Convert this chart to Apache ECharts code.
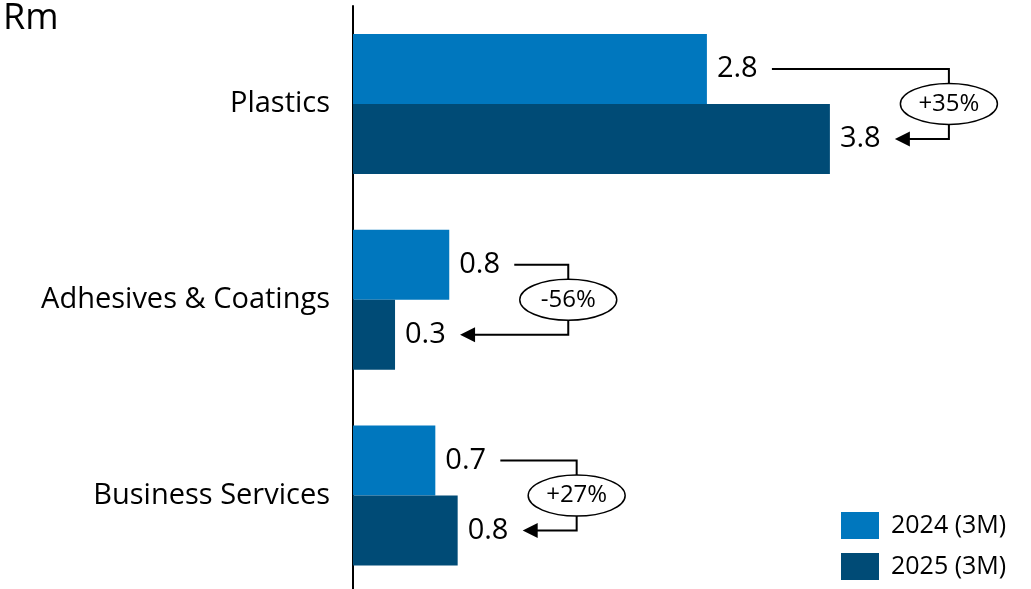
<!DOCTYPE html>
<html>
<head>
<meta charset="utf-8">
<script src="https://cdn.jsdelivr.net/npm/echarts@6/dist/echarts.min.js"></script>
<style>
  html, body { margin: 0; padding: 0; background: #fff; }
  #chart { width: 1031px; height: 589px; }
</style>
</head>
<body>
<div id="chart"></div>
<script>
// Revenue by segment, Rm, first three months of each year
var categories = ['Plastics', 'Adhesives & Coatings', 'Business Services'];
var seriesNames = ['2024 (3M)', '2025 (3M)'];
var values2024 = [2.82, 0.767, 0.656];
var values2025 = [3.80, 0.335, 0.834];

var FONT = '"Open Sans", "Noto Sans", sans-serif';
var COLOR_2024 = '#0077BE';
var COLOR_2025 = '#004B76';
var BAR_WIDTH = 70;

function fmtValue(v) { return v.toFixed(1); }
function fmtChange(a, b) {
  var p = Math.round((b / a - 1) * 100);
  return (p > 0 ? '+' : '') + p + '%';
}

// one row per category for the change connectors: [v2024, v2025, categoryIndex]
var changeRows = categories.map(function (c, i) {
  return [values2024[i], values2025[i], i];
});

function renderChange(params, api) {
  var cat = api.value(2);
  var v24 = api.value(0), v25 = api.value(1);
  var p24 = api.coord([v24, cat]);
  var p25 = api.coord([v25, cat]);
  var pMax = api.coord([Math.max(v24, v25), cat]);
  var half = BAR_WIDTH / 2;
  var yTop = p24[1] - half;
  var yBot = p24[1] + half;
  var yMid = p24[1];
  var startX = p24[0] + 65;
  var vx = pMax[0] + 119;
  var tipX = p25[0] + 65;
  var label = fmtChange(v24, v25);
  var rx = 48.5, ry = 20.5;
  var lineStyle = { stroke: '#000', lineWidth: 2, fill: null };
  return {
    type: 'group',
    children: [
      { type: 'polyline', shape: { points: [[startX, yTop], [vx, yTop], [vx, yBot], [tipX + 14, yBot]] }, style: lineStyle },
      { type: 'polygon', shape: { points: [[tipX, yBot], [tipX + 15, yBot - 7.5], [tipX + 15, yBot + 7.5]] }, style: { fill: '#000' } },
      { type: 'path', shape: { pathData: 'M' + (vx - rx) + ' ' + yMid + ' A' + rx + ' ' + ry + ' 0 1 0 ' + (vx + rx) + ' ' + yMid + ' A' + rx + ' ' + ry + ' 0 1 0 ' + (vx - rx) + ' ' + yMid + ' Z' },
        style: { fill: '#fff', stroke: '#000', lineWidth: 1.5 } },
      { type: 'text', x: vx, y: yMid, style: { text: label, fill: '#000', font: '24px ' + FONT, align: 'center', verticalAlign: 'middle' } }
    ]
  };
}

var chart = echarts.init(document.getElementById('chart'), null, { renderer: 'canvas' });
chart.setOption({
  animation: false,
  backgroundColor: '#fff',
  textStyle: { fontFamily: FONT },
  graphic: [
    { type: 'text', left: 3, top: 1, style: { text: 'Rm', fill: '#000', font: '36px ' + FONT } }
  ],
  legend: {
    orient: 'vertical',
    left: 841,
    top: 512,
    itemWidth: 38,
    itemHeight: 27,
    itemGap: 14,
    icon: 'rect',
    padding: 0,
    textStyle: { fontSize: 25, color: '#000', fontFamily: FONT, padding: [0, 0, 0, 7] },
    data: seriesNames
  },
  grid: { left: 353, top: 6, width: 627.5, height: 587.5, containLabel: false, outerBoundsMode: 'none' },
  xAxis: {
    type: 'value', min: 0, max: 5,
    show: false
  },
  yAxis: {
    type: 'category',
    inverse: true,
    data: categories,
    axisLine: { show: true, lineStyle: { color: '#000', width: 2 } },
    axisTick: { show: false },
    axisLabel: { fontSize: 29, color: '#000', margin: 23, fontFamily: FONT }
  },
  series: [
    {
      name: seriesNames[0], type: 'bar', data: values2024,
      barWidth: BAR_WIDTH, barGap: '0%',
      itemStyle: { color: COLOR_2024 },
      label: { show: true, position: 'right', distance: 10, fontSize: 29, color: '#000', fontFamily: FONT,
        formatter: function (p) { return fmtValue(p.value); } }
    },
    {
      name: seriesNames[1], type: 'bar', data: values2025,
      barWidth: BAR_WIDTH, barGap: '0%',
      itemStyle: { color: COLOR_2025 },
      label: { show: true, position: 'right', distance: 10, fontSize: 29, color: '#000', fontFamily: FONT,
        formatter: function (p) { return fmtValue(p.value); } }
    },
    {
      type: 'custom', silent: true, z: 10,
      data: changeRows,
      encode: { x: [0, 1], y: 2 },
      renderItem: renderChange
    }
  ]
});
</script>
</body>
</html>
